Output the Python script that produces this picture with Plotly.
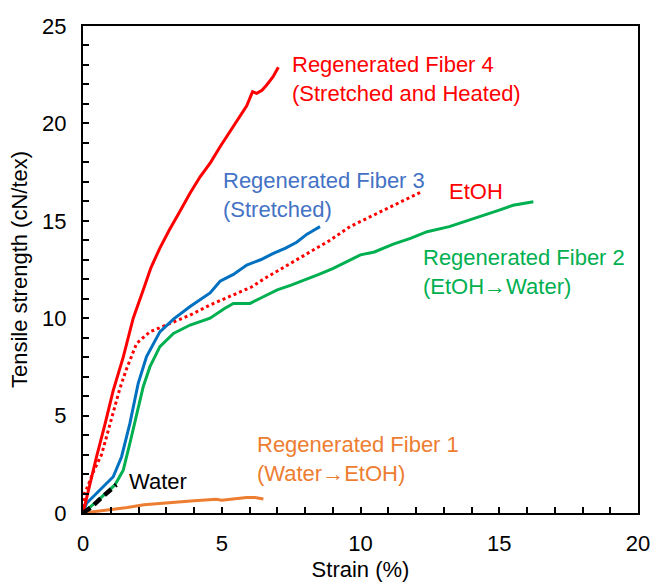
import plotly.graph_objects as go

# Regenerated Fiber 4 (Stretched and Heated)
f4_x = [0, 0.25, 0.49, 0.8, 1.09, 1.45, 1.81, 2.17, 2.45, 2.77, 3.1, 3.5, 3.85, 4.22, 4.6, 4.94, 5.3, 5.66, 5.9, 6.11, 6.26, 6.45, 6.62, 6.85, 7.04]
f4_y = [0, 1.5, 2.9, 4.6, 6.3, 8.0, 10.0, 11.45, 12.6, 13.6, 14.5, 15.5, 16.4, 17.26, 18.0, 18.8, 19.6, 20.34, 20.9, 21.63, 21.54, 21.7, 21.97, 22.4, 22.88]

# Regenerated Fiber 3 (Stretched)
f3_x = [0, 0.13, 0.61, 1.09, 1.39, 1.69, 1.99, 2.29, 2.77, 3.26, 3.86, 4.58, 4.94, 5.42, 5.9, 6.4, 6.86, 7.3, 7.7, 8.06, 8.3, 8.54]
f3_y = [0, 0.5, 1.18, 1.86, 2.89, 4.6, 6.66, 8.03, 9.3, 9.95, 10.6, 11.3, 11.9, 12.25, 12.73, 13.0, 13.33, 13.6, 13.9, 14.3, 14.5, 14.7]

# EtOH
et_x = [0, 0.05, 0.15, 0.4, 0.67, 0.9, 1.1, 1.33, 1.57, 1.93, 2.41, 3.01, 3.86, 4.58, 5.42, 6.07, 6.5, 6.86, 7.5, 8.18, 8.9, 9.62, 10.2, 10.82, 11.5, 12.2]
et_y = [0, 1.0, 1.3, 2.2, 3.0, 4.2, 5.3, 6.4, 7.4, 8.7, 9.3, 9.65, 10.16, 10.68, 11.2, 11.6, 12.0, 12.3, 12.8, 13.4, 14.0, 14.7, 15.1, 15.55, 16.0, 16.49]

# Regenerated Fiber 2 (EtOH -> Water)
f2_x = [0, 0.5, 1.15, 1.45, 1.69, 1.93, 2.17, 2.41, 2.77, 3.26, 3.86, 4.58, 5.1, 5.42, 6.02, 6.5, 7.0, 7.5, 8.06, 8.5, 9.0, 9.5, 10.0, 10.5, 11.18, 11.8, 12.4, 13.2, 13.95, 14.5, 15.0, 15.5, 16.23]
f2_y = [0, 0.6, 1.44, 2.2, 3.58, 5.1, 6.48, 7.5, 8.54, 9.22, 9.65, 10.0, 10.5, 10.76, 10.76, 11.1, 11.45, 11.7, 12.0, 12.25, 12.55, 12.9, 13.25, 13.4, 13.8, 14.1, 14.44, 14.7, 15.04, 15.3, 15.55, 15.8, 15.98]

# Regenerated Fiber 1 (Water -> EtOH)
f1_x = [0, 0.5, 1.0, 1.6, 2.2, 2.8, 3.4, 4.0, 4.8, 5.0, 5.4, 5.9, 6.2, 6.5]
f1_y = [0, 0.08, 0.15, 0.28, 0.42, 0.5, 0.58, 0.63, 0.7, 0.66, 0.72, 0.8, 0.8, 0.72]

# Water
w_x = [0, 0.3, 0.6, 0.9, 1.2]
w_y = [0, 0.3, 0.7, 1.1, 1.45]

RED = "#FF0000"
BLUE = "#0070C0"
BLUE_T = "#4472C4"
GREEN = "#00B050"
ORANGE = "#ED7D31"
FONT = "Liberation Sans, Arial, sans-serif"
FS = 22

fig = go.Figure()
fig.add_trace(go.Scatter(x=f1_x, y=f1_y, mode="lines", line=dict(color=ORANGE, width=3)))
fig.add_trace(go.Scatter(x=f2_x, y=f2_y, mode="lines", line=dict(color=GREEN, width=3)))
fig.add_trace(go.Scatter(x=et_x, y=et_y, mode="lines", line=dict(color=RED, width=3, dash="dot")))
fig.add_trace(go.Scatter(x=f3_x, y=f3_y, mode="lines", line=dict(color=BLUE, width=3)))
fig.add_trace(go.Scatter(x=f4_x, y=f4_y, mode="lines", line=dict(color=RED, width=3)))
fig.add_trace(go.Scatter(x=w_x, y=w_y, mode="lines", line=dict(color="black", width=4.5, dash="9px,5px")))

ann = [
    (7.45, 22.28, "Regenerated Fiber 4<br>(Stretched and Heated)", RED),
    (4.96, 16.32, "Regenerated Fiber 3<br>(Stretched)", BLUE_T),
    (13.1, 16.5, "EtOH", RED),
    (12.17, 12.37, "Regenerated Fiber 2<br>(EtOH→Water)", GREEN),
    (6.2, 2.77, "Regenerated Fiber 1<br>(Water→EtOH)", ORANGE),
    (1.6, 1.61, "Water", "black"),
]
for x, y, t, c in ann:
    fig.add_annotation(x=x, y=y, text=t, showarrow=False, xanchor="left", yanchor="middle",
                       align="left", font=dict(family=FONT, size=FS, color=c))

axis_common = dict(
    showline=True, linecolor="black", linewidth=2, mirror=True,
    ticks="inside", ticklen=6, tickwidth=1.5, tickcolor="black",
    showgrid=False, zeroline=False, automargin=False,
    tickfont=dict(family=FONT, size=FS, color="black"),
    ticklabelstandoff=10,
    minor=dict(ticks="inside", ticklen=6, tickwidth=1.5, tickcolor="black", dtick=1, showgrid=False),
)

fig.update_layout(
    width=652, height=582,
    margin=dict(l=83, r=14, t=26, b=69),
    paper_bgcolor="white", plot_bgcolor="white",
    showlegend=False,
    xaxis=dict(range=[0, 20], dtick=5, tick0=0,
               title=dict(text="Strain (%)", font=dict(family=FONT, size=FS, color="black"), standoff=6),
               **axis_common),
    yaxis=dict(range=[0, 25], dtick=5, tick0=0,
               title=dict(text="Tensile strength (cN/tex)", font=dict(family=FONT, size=FS, color="black"), standoff=8),
               **axis_common),
)

fig.write_html("out.html", config={"displayModeBar": False},
               post_script="document.body.style.margin='0';document.body.style.overflow='hidden';")
